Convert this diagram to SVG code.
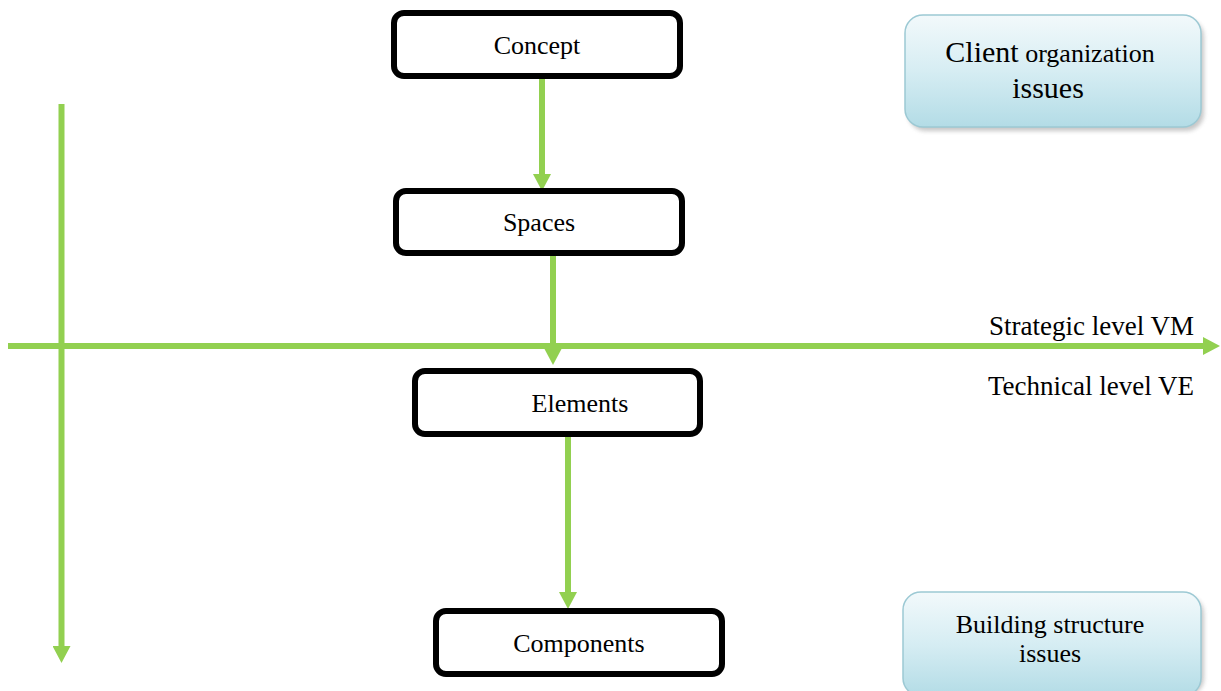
<svg xmlns="http://www.w3.org/2000/svg" width="1221" height="691" viewBox="0 0 1221 691">
<style>
  .box { fill: #ffffff; stroke: #000000; stroke-width: 6; }
  .lbl { font-family: "Liberation Serif", "Times New Roman", serif; font-size: 26px; fill: #000000; }
  .big { font-size: 30px; }
  .lvl { font-size: 27px; }
  .mid { text-anchor: middle; }
  .end { text-anchor: end; }
  .conn { stroke: #92D050; stroke-width: 6; fill: none; marker-end: url(#ah); }
  .issue { fill: url(#blue); stroke: #9cc9d4; stroke-width: 1.5; }
  .shadow { fill: #9a9a9a; opacity: 0.55; }
</style>
<defs>
  <marker id="ah" markerUnits="userSpaceOnUse" viewBox="0 0 17 18" refX="0" refY="9" markerWidth="17" markerHeight="18" orient="auto">
    <path d="M0,0 L17,9 L0,18 Z" fill="#92D050"/>
  </marker>
  <linearGradient id="blue" x1="0" y1="0" x2="0" y2="1">
    <stop offset="0" stop-color="#f2f9fb"/>
    <stop offset="0.5" stop-color="#d6edf3"/>
    <stop offset="1" stop-color="#b3dce6"/>
  </linearGradient>
  <filter id="blur" x="-10%" y="-10%" width="120%" height="130%">
    <feGaussianBlur stdDeviation="2"/>
  </filter>
</defs>
<rect width="1221" height="691" fill="#ffffff"/>

<g id="connectors">
  <line class="conn" x1="542" y1="76" x2="542" y2="174"/>
  <line class="conn" x1="553" y1="254" x2="553" y2="348"/>
  <line class="conn" x1="568" y1="437" x2="568" y2="592"/>
  <line class="conn" x1="8" y1="346" x2="1203" y2="346"/>
  <line class="conn" x1="61.5" y1="104" x2="61.5" y2="646"/>
</g>

<g id="concept">
  <rect class="box" x="394" y="13" width="286" height="63" rx="10"/>
  <text class="lbl mid" x="537" y="54">Concept</text>
</g>
<g id="spaces">
  <rect class="box" x="396" y="191" width="286" height="62" rx="10"/>
  <text class="lbl mid" x="539" y="231">Spaces</text>
</g>
<g id="elements">
  <rect class="box" x="415" y="371" width="285" height="63" rx="10"/>
  <text class="lbl mid" x="580" y="412">Elements</text>
</g>
<g id="components">
  <rect class="box" x="436" y="611" width="286" height="63" rx="10"/>
  <text class="lbl mid" x="579" y="652">Components</text>
</g>

<g id="client-issues">
  <rect class="shadow" x="908" y="19" width="296" height="112" rx="18" filter="url(#blur)"/>
  <rect class="issue" x="905" y="15" width="296" height="112" rx="18"/>
  <text class="lbl mid" x="1050" y="62"><tspan class="big">Client</tspan> organization</text>
  <text class="lbl big mid" x="1048" y="98">issues</text>
</g>
<g id="building-issues">
  <rect class="shadow" x="906" y="596" width="298" height="100" rx="18" filter="url(#blur)"/>
  <rect class="issue" x="903" y="592" width="298" height="104" rx="18"/>
  <text class="lbl mid" x="1050" y="633">Building structure</text>
  <text class="lbl mid" x="1050" y="662">issues</text>
</g>

<g id="level-labels">
  <text class="lbl lvl end" x="1194" y="335">Strategic level VM</text>
  <text class="lbl lvl end" x="1194" y="395">Technical level VE</text>
</g>
</svg>
